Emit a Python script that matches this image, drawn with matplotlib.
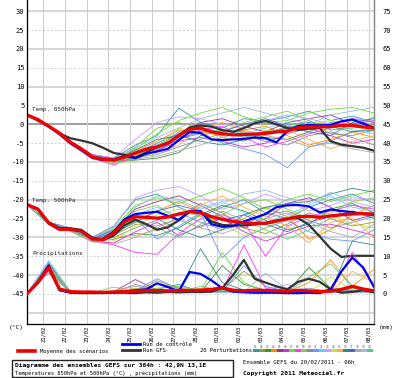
import numpy as np
import matplotlib
matplotlib.use('Agg')
import matplotlib.pyplot as plt
from matplotlib.lines import Line2D
from matplotlib.patches import Rectangle

#-------- time axis (hours after 20/02/2011 06h) --------#
hours = np.arange(0, 385, 12)       # control / GFS / mean
hours_p = np.arange(0, 385, 24)     # perturbations
date_labels = ['21/02', '22/02', '23/02', '24/02', '25/02', '26/02', '27/02', '28/02',
               '01/03', '02/03', '03/03', '04/03', '05/03', '06/03', '07/03', '08/03']
date_hours = [18 + 24*i for i in range(len(date_labels))]

#-------- 850 hPa (degC) --------#
t850_mean = [2.5, 1.3, -0.5, -2.3, -4.8, -6.5, -8.6, -9.3, -9.5, -8.7, -7.6, -6.6, -6.0, -5.0, -3.0, -1.3, -1.0,
             -2.0, -2.5, -2.8, -2.7, -2.6, -2.4, -2.0, -1.8, -0.9, -0.7, -0.7, -0.6, -0.3, -0.3, -0.7, -1.0]
t850_ctrl = [2.5, 1.2, -0.6, -2.5, -5.0, -6.8, -8.8, -9.5, -9.4, -8.4, -9.0, -7.8, -7.2, -6.5, -4.2, -2.0, -2.3,
             -4.0, -4.2, -4.0, -3.9, -3.5, -3.7, -4.8, -1.8, -0.5, -0.2, -0.3, -0.2, 0.8, 1.3, 0.2, -1.0]
t850_gfs = [2.5, 1.0, -0.6, -2.4, -3.7, -4.3, -5.0, -6.2, -7.6, -8.1, -8.8, -7.5, -6.0, -5.0, -3.0, -0.8, -0.3,
            -0.6, -1.5, -2.0, -1.0, 0.3, 0.9, 0.0, -1.0, -1.5, -1.2, -1.0, -4.5, -5.4, -5.8, -6.2, -7.0]
t850_pert = [
    [2.5, -0.3, -4.5, -8.2, -9.0, -5.5, -3.0, 4.3, 0.5, -1.0, 1.5, 0.8, 2.0, 3.5, 1.0, 2.2, 0.5],
    [2.5, -0.6, -5.0, -8.8, -10.2, -8.0, -6.5, -2.0, -0.5, -3.5, -4.5, -2.0, -1.0, 0.5, -2.5, -3.0, -1.5],
    [2.5, -0.4, -4.6, -8.5, -9.8, -9.5, -9.0, -7.5, -3.0, -1.5, -2.0, -3.5, -4.0, -2.0, 0.5, 1.0, -0.5],
    [2.5, -0.5, -5.1, -8.9, -9.3, -7.0, -4.5, -1.5, -2.0, -3.0, -1.5, -0.5, -3.0, -5.5, -4.0, -2.0, -3.5],
    [2.5, -0.2, -4.3, -8.0, -9.0, -7.8, -5.0, -2.5, 0.5, 1.5, -0.5, -2.0, 0.5, 1.5, 2.5, 0.0, 1.0],
    [2.5, -0.7, -5.3, -9.1, -10.0, -9.0, -7.0, -4.5, -3.5, -4.5, -6.0, -5.0, -2.5, -1.0, -3.0, -5.0, -4.0],
    [2.5, -0.3, -4.8, -8.4, -9.6, -6.5, -2.5, 1.0, 3.0, 4.5, 2.0, 0.5, 1.0, 3.0, 4.0, 4.5, 3.0],
    [2.5, -0.5, -4.9, -9.0, -10.8, -8.5, -6.0, -3.5, -1.5, -0.5, -3.5, -6.0, -4.5, -2.5, -1.0, 1.5, 0.5],
    [2.5, -0.4, -4.7, -8.6, -9.4, -6.0, -1.0, 0.5, -1.0, -2.0, 0.5, 2.0, 3.5, 1.0, -1.5, -0.5, 2.0],
    [2.5, -0.6, -5.0, -8.7, -9.2, -8.8, -8.0, -6.0, -4.0, -2.5, -3.0, -4.5, -5.5, -3.0, -2.0, -3.5, -5.5],
    [2.5, -0.5, -4.6, -8.3, -9.9, -7.5, -5.5, -3.8, -2.5, -5.0, -6.5, -8.0, -11.5, -6.0, -4.5, -2.0, -1.0],
    [2.5, -0.4, -4.8, -8.8, -9.5, -7.2, -5.0, -2.2, 0.0, -1.5, -2.5, -1.0, 0.5, -1.0, 0.5, -1.5, -2.5],
    [2.5, -0.2, -4.4, -8.1, -8.9, -4.0, 0.5, 2.0, 1.5, 0.0, -1.0, 1.0, 2.5, 1.5, 0.0, 1.5, 1.0],
    [2.5, -0.6, -5.2, -9.0, -10.3, -9.8, -6.0, -1.0, -2.5, -4.0, -3.0, -1.5, -2.0, 0.0, 1.0, -0.5, -2.0],
    [2.5, -0.5, -4.9, -8.6, -9.7, -8.0, -7.5, -5.5, -1.0, 0.5, -1.5, -3.0, -1.5, -4.0, -6.5, -4.5, -3.0],
    [2.5, -0.3, -4.5, -8.5, -9.6, -6.8, -4.0, -3.0, -4.5, -5.5, -4.0, -2.5, -1.0, 0.5, -0.5, -2.0, -1.5],
    [2.5, -0.4, -4.7, -8.4, -9.1, -7.5, -6.8, -4.0, -1.8, -2.0, 0.0, 1.5, -0.5, -2.0, -3.0, 0.5, 1.5],
    [2.5, -0.7, -5.2, -9.2, -10.5, -9.2, -8.5, -7.0, -5.5, -3.5, -2.0, -3.0, -4.0, -6.0, -5.0, -6.5, -7.5],
    [2.5, -0.5, -4.8, -8.9, -9.8, -6.2, -3.5, -1.0, 1.5, 3.0, 4.5, 3.0, 1.5, 0.0, 2.5, 3.5, 4.5],
    [2.5, -0.4, -4.6, -8.7, -10.0, -8.6, -5.5, -2.8, -1.0, -2.0, -3.5, -2.5, -0.5, 1.0, -1.5, -1.0, -0.5],
]

#-------- 500 hPa (degC) --------#
t500_mean = [-21.3, -22.5, -26.2, -27.9, -27.9, -28.3, -30.4, -30.6, -28.8, -25.8, -24.5, -24.7, -24.9, -24.6,
             -23.8, -23.2, -23.5, -24.5, -25.2, -25.8, -26.1, -26.3, -26.3, -25.6, -25.1, -24.5, -24.4, -24.7,
             -24.3, -24.0, -23.8, -23.7, -23.8]
t500_ctrl = [-21.3, -22.6, -26.3, -28.0, -27.8, -28.4, -30.5, -30.4, -28.5, -25.2, -23.8, -23.5, -23.2, -24.3,
             -25.4, -23.2, -23.0, -26.5, -27.2, -27.0, -25.8, -24.8, -23.8, -22.0, -21.5, -21.4, -21.8, -23.4,
             -22.6, -23.0, -23.3, -23.8, -24.0]
t500_gfs = [-21.3, -22.4, -26.0, -27.5, -27.6, -28.0, -30.0, -30.8, -29.5, -26.8, -25.3, -26.5, -28.0, -27.3,
            -25.5, -23.0, -23.3, -25.8, -26.7, -26.9, -26.8, -26.6, -26.2, -25.8, -25.0, -24.9, -26.7, -29.8,
            -33.0, -35.2, -34.9, -34.9, -34.9]
t500_pert = [
    [-21.3, -26.0, -27.5, -30.0, -27.0, -20.0, -18.5, -22.0, -24.5, -22.0, -20.0, -23.5, -25.0, -22.0, -20.0, -18.5, -21.0],
    [-21.3, -26.4, -28.2, -30.8, -29.5, -26.5, -27.0, -25.0, -21.0, -23.5, -27.5, -29.0, -26.5, -23.5, -25.0, -27.0, -26.0],
    [-21.3, -26.1, -27.8, -30.2, -30.5, -29.0, -29.5, -27.5, -24.0, -21.5, -23.0, -25.5, -28.0, -26.5, -22.5, -21.0, -23.5],
    [-21.3, -26.3, -28.0, -30.6, -29.2, -25.5, -23.0, -20.5, -23.0, -27.0, -25.0, -22.0, -24.5, -30.5, -28.0, -24.0, -21.5],
    [-21.3, -26.0, -27.6, -30.1, -28.0, -22.5, -20.5, -19.0, -21.5, -24.5, -27.5, -25.0, -21.0, -19.5, -22.0, -25.5, -24.0],
    [-21.3, -26.5, -28.3, -31.0, -31.5, -28.5, -26.0, -29.5, -27.0, -25.0, -28.5, -31.0, -29.0, -27.0, -26.5, -28.0, -29.5],
    [-21.3, -26.1, -27.7, -30.3, -27.5, -21.5, -19.5, -21.0, -19.0, -17.0, -19.5, -22.5, -20.0, -18.5, -20.5, -19.0, -17.5],
    [-21.3, -26.4, -28.1, -30.9, -32.0, -34.0, -34.5, -29.0, -25.0, -24.0, -26.0, -35.0, -27.0, -24.5, -23.0, -21.5, -22.5],
    [-21.3, -26.2, -27.9, -30.4, -28.3, -23.0, -21.5, -25.5, -27.5, -24.0, -21.0, -20.0, -22.5, -25.0, -23.5, -20.5, -19.5],
    [-21.3, -26.3, -28.2, -30.7, -30.0, -27.5, -25.5, -23.5, -26.0, -28.0, -26.5, -24.0, -23.0, -25.5, -27.5, -26.0, -24.5],
    [-21.3, -26.1, -27.6, -30.0, -28.5, -25.0, -30.5, -27.0, -23.5, -35.5, -30.0, -27.5, -25.5, -28.5, -30.5, -31.0, -28.0],
    [-21.3, -26.2, -28.0, -30.5, -29.0, -24.0, -22.0, -24.5, -22.0, -20.5, -23.5, -26.0, -24.0, -21.5, -19.0, -22.0, -23.0],
    [-21.3, -26.0, -27.5, -30.0, -27.2, -19.5, -17.5, -16.5, -19.0, -22.5, -21.0, -18.5, -20.5, -23.0, -21.5, -19.5, -20.0],
    [-21.3, -26.4, -28.3, -30.8, -31.0, -27.0, -24.0, -22.5, -24.5, -26.5, -29.5, -27.5, -24.5, -22.0, -24.0, -26.5, -27.5],
    [-21.3, -26.3, -28.0, -30.6, -29.8, -29.5, -28.0, -25.5, -21.5, -19.0, -22.0, -24.5, -27.0, -31.5, -26.0, -25.0, -30.0],
    [-21.3, -26.1, -27.8, -30.3, -28.0, -24.5, -25.0, -28.0, -30.0, -28.0, -24.0, -22.0, -21.0, -20.5, -18.5, -17.0, -18.0],
    [-21.3, -26.2, -27.9, -30.4, -28.8, -26.0, -23.0, -21.5, -23.0, -25.5, -24.0, -26.5, -28.5, -26.0, -24.5, -23.0, -25.0],
    [-21.3, -26.5, -28.4, -31.2, -31.8, -30.0, -27.5, -25.0, -27.5, -29.0, -27.0, -25.0, -23.5, -26.0, -28.5, -30.0, -26.5],
    [-21.3, -26.2, -27.7, -30.2, -27.8, -22.0, -19.0, -20.0, -22.5, -21.0, -18.5, -17.5, -19.5, -21.0, -18.0, -20.5, -22.0],
    [-21.3, -26.3, -28.1, -30.6, -29.3, -25.8, -27.5, -30.0, -26.5, -23.0, -25.5, -28.0, -30.5, -28.0, -25.0, -23.5, -24.5],
]

#-------- precipitation (mm) --------#
rr_mean = [0.0, 3.0, 7.0, 1.3, 0.6, 0.5, 0.5, 0.4, 0.5, 0.6, 0.7, 0.9, 0.9, 0.8, 0.9, 0.9, 1.0,
           1.2, 1.6, 1.0, 0.8, 1.0, 0.9, 0.8, 0.7, 0.9, 0.8, 0.6, 0.7, 1.2, 2.0, 1.3, 0.8]
rr_ctrl = [0.0, 3.2, 7.5, 1.0, 0.4, 0.3, 0.3, 0.3, 0.4, 0.6, 1.0, 1.2, 2.8, 1.8, 0.7, 5.8, 5.3,
           3.6, 1.5, 0.6, 0.4, 0.3, 0.3, 0.3, 0.2, 0.2, 0.3, 0.2, 1.2, 6.0, 9.6, 7.0, 1.8]
rr_gfs = [0.0, 3.0, 6.8, 1.0, 0.3, 0.2, 0.2, 0.2, 0.3, 0.3, 0.2, 0.4, 0.3, 0.5, 0.4, 0.5, 0.5,
          0.6, 1.5, 5.0, 9.0, 4.0, 3.0, 2.0, 1.2, 3.2, 4.0, 3.2, 1.2, 0.3, 0.5, 1.0, 0.4]
rr_pert = [
    [0, 8.0, 0.5, 0.3, 0.4, 0.8, 1.2, 2.5, 0.6, 0.4, 0.5, 0.8, 1.0, 0.6, 0.4, 0.6, 0.8],
    [0, 7.2, 0.4, 0.2, 0.3, 0.5, 3.5, 1.5, 0.8, 1.0, 6.0, 2.0, 0.5, 0.3, 0.4, 1.5, 0.5],
    [0, 6.5, 0.5, 0.3, 0.5, 1.5, 0.8, 0.5, 0.4, 7.5, 2.5, 1.0, 0.6, 7.0, 1.5, 0.8, 0.6],
    [0, 8.5, 0.6, 0.4, 0.3, 0.4, 2.8, 1.5, 0.5, 0.8, 1.2, 0.6, 0.4, 3.0, 9.0, 2.0, 6.5],
    [0, 7.0, 0.4, 0.2, 0.6, 3.8, 1.0, 0.5, 0.3, 0.4, 0.5, 0.8, 1.5, 0.6, 0.5, 0.4, 0.3],
    [0, 6.0, 0.5, 0.3, 0.4, 0.6, 0.4, 0.8, 1.0, 0.5, 0.6, 0.4, 0.3, 0.5, 0.8, 1.0, 0.5],
    [0, 7.5, 0.6, 0.4, 0.5, 0.8, 1.5, 2.0, 0.8, 11.0, 3.0, 0.6, 0.4, 0.5, 1.2, 0.6, 0.4],
    [0, 8.2, 0.5, 0.3, 0.3, 0.5, 0.6, 0.4, 1.2, 0.8, 13.0, 1.5, 0.8, 0.5, 0.4, 11.0, 2.0],
    [0, 6.8, 0.4, 0.3, 1.8, 0.8, 0.5, 0.6, 0.4, 0.5, 0.8, 1.0, 0.5, 0.4, 0.6, 0.8, 0.5],
    [0, 7.8, 0.5, 0.4, 0.5, 2.5, 1.0, 0.5, 0.6, 0.4, 0.5, 0.6, 0.8, 1.5, 0.6, 0.4, 0.5],
    [0, 5.5, 0.4, 0.3, 0.4, 1.0, 4.0, 1.2, 0.5, 0.6, 7.5, 2.0, 0.6, 0.5, 0.4, 0.6, 0.8],
    [0, 8.8, 0.6, 0.4, 0.3, 0.5, 0.8, 1.0, 0.6, 0.5, 0.4, 0.6, 0.5, 0.8, 1.0, 0.6, 0.4],
    [0, 7.0, 0.5, 0.3, 0.4, 0.6, 0.5, 0.4, 0.8, 1.5, 0.6, 1.0, 2.5, 0.8, 0.6, 0.5, 1.0],
    [0, 6.2, 0.4, 0.3, 0.5, 1.5, 0.8, 0.6, 1.5, 0.8, 0.5, 0.4, 0.6, 0.5, 4.5, 1.0, 0.6],
    [0, 7.6, 0.5, 0.4, 0.3, 0.4, 0.5, 0.8, 0.6, 0.5, 1.0, 0.8, 0.5, 0.6, 0.4, 6.0, 3.0],
    [0, 8.0, 0.6, 0.3, 0.4, 0.5, 0.6, 0.8, 12.0, 3.0, 1.0, 0.6, 0.5, 0.4, 0.6, 14.0, 13.0],
    [0, 6.6, 0.5, 0.4, 0.5, 0.6, 0.5, 0.4, 0.5, 0.6, 0.8, 0.5, 0.4, 0.6, 0.5, 0.8, 0.6],
    [0, 7.4, 0.4, 0.3, 0.8, 2.0, 1.0, 0.6, 0.4, 0.5, 0.6, 0.4, 0.5, 0.4, 0.5, 0.6, 0.4],
    [0, 8.4, 0.5, 0.4, 0.3, 0.5, 1.0, 0.8, 0.5, 0.4, 0.5, 5.5, 1.0, 0.6, 0.5, 0.4, 0.5],
    [0, 6.9, 0.5, 0.3, 0.4, 0.8, 0.6, 0.5, 2.0, 0.8, 0.6, 0.5, 0.4, 4.5, 8.0, 2.0, 0.6],
]

pert_colors = ['#3399aa', '#999933', '#339933', '#ff8800', '#993399', '#cc33cc', '#66dd33', '#ff33ff',
               '#88cc44', '#8888aa', '#6699ff', '#66ccff', '#cc99ff', '#ccdd44', '#ffaa44', '#338888',
               '#4466dd', '#aaaaaa', '#99bbdd', '#55cc88']

mono = 'DejaVu Sans Mono'
W, H = 400, 378

def fx(x):
    return x / W

def fy(y):
    return 1 - y / H

fig = plt.figure(figsize=(4, 3.78), dpi=100)
ax = fig.add_axes([fx(27), fy(324), (374 - 27) / W, 324 / H])
ax.set_xlim(0, 384)
ax.set_ylim(-53, 33)

# grid
for v in range(-50, 35, 5):
    if v == 0:
        ax.axhline(v, color='#999999', lw=1.3, zorder=0)
    elif v % 10 == 0:
        ax.axhline(v, color='#d0d0d0', lw=1.2, zorder=0)
    else:
        ax.axhline(v, color='#d0d0d0', lw=0.7, ls=(0, (2, 2)), zorder=0)
for h in date_hours:
    ax.axvline(h, color='#d0d0d0', lw=0.8, zorder=0)

# perturbations
for i in range(20):
    ax.plot(hours_p, t850_pert[i], color=pert_colors[i], lw=0.6, zorder=2)
    ax.plot(hours_p, t500_pert[i], color=pert_colors[i], lw=0.6, zorder=2)

ax.plot(hours, t850_gfs, color='#333333', lw=1.6, zorder=3)
ax.plot(hours, t500_gfs, color='#333333', lw=1.6, zorder=3)
ax.plot(hours, t850_ctrl, color='#0000ee', lw=1.6, zorder=4)
ax.plot(hours, t500_ctrl, color='#0000ee', lw=1.6, zorder=4)
ax.plot(hours, t850_mean, color='#ee0000', lw=2.3, zorder=5)
ax.plot(hours, t500_mean, color='#ee0000', lw=2.3, zorder=5)

ax.set_yticks(range(-45, 31, 5))
ax.set_yticklabels([str(v) for v in range(-45, 31, 5)], fontsize=5, family=mono)
ax.set_xticks(date_hours)
ax.set_xticklabels(date_labels, rotation=90, fontsize=4.0, family=mono)
ax.tick_params(axis='y', length=0, pad=2)
ax.tick_params(axis='x', length=0, pad=1.5)
ax.spines['top'].set_visible(False)
for s in ['left', 'bottom', 'right']:
    ax.spines[s].set_color('#888888')
    ax.spines[s].set_linewidth(1.0)

ax.text(5.5, 4.0, 'Temp. 850hPa', fontsize=4.3, family=mono, color='#222222', va='center', zorder=6)
ax.text(5.5, -20.1, 'Temp. 500hPa', fontsize=4.3, family=mono, color='#222222', va='center', zorder=6)
ax.text(5.5, -34.1, 'Précipitations', fontsize=4.3, family=mono, color='#222222', va='center', zorder=6)

# precipitation on the right (mm) axis
ax2 = ax.twinx()
ax2.set_ylim(-8, 78)
for i in range(20):
    ax2.plot(hours_p, rr_pert[i], color=pert_colors[i], lw=0.6, zorder=2)
ax2.plot(hours, rr_gfs, color='#333333', lw=1.6, zorder=3)
ax2.plot(hours, rr_ctrl, color='#0000ee', lw=1.6, zorder=4)
ax2.plot(hours, rr_mean, color='#ee0000', lw=2.3, zorder=5)
ax2.set_yticks(range(0, 76, 5))
ax2.set_yticklabels([str(v) for v in range(0, 76, 5)], fontsize=5, family=mono)
ax2.tick_params(length=0, pad=6)
ax2.spines['top'].set_visible(False)
ax2.spines['right'].set_color('#888888')

fig.text(fx(16), fy(327), '(°C)', fontsize=4.5, family=mono, ha='center', va='center')
fig.text(fx(386), fy(327), '(mm)', fontsize=4.5, family=mono, ha='center', va='center')

# legend
fig.add_artist(Line2D([fx(18), fx(35)], [fy(351), fy(351)], color='#ee0000', lw=2.6))
fig.text(fx(40), fy(351), 'Moyenne des scénarios', fontsize=4, family=mono, va='center')
fig.add_artist(Line2D([fx(122), fx(140)], [fy(344), fy(344)], color='#0000ee', lw=2))
fig.text(fx(143), fy(344.5), 'Run de contrôle', fontsize=4, family=mono, va='center')
fig.add_artist(Line2D([fx(122), fx(140)], [fy(350), fy(350)], color='#333333', lw=2))
fig.text(fx(143), fy(350.5), 'Run GFS', fontsize=4, family=mono, va='center')
fig.text(fx(200), fy(350), '20 Perturbations', fontsize=4, family=mono, va='center')
for i in range(20):
    x0 = 253 + i * 6
    fig.text(fx(x0 + 2.8), fy(346.5), '%02d' % (i + 1), fontsize=2.2, family=mono,
             ha='center', va='center', color='#555555')
    fig.add_artist(Rectangle((fx(x0), fy(352)), 5.5 / W, 3.0 / H, color=pert_colors[i], lw=0))

# title box
fig.add_artist(Rectangle((fx(12), fy(377)), 221 / W, 17 / H, fill=False, ec='#222222', lw=1))
fig.text(fx(15), fy(365), 'Diagramme des ensembles GEFS sur 384h : 42,9N 13,1E', fontsize=4.5,
         family=mono, weight='bold', va='center')
fig.text(fx(15), fy(373), 'Températures 850hPa et 500hPa (°C) , précipitations (mm)', fontsize=3.9,
         family=mono, va='center')
fig.text(fx(243), fy(362), 'Ensemble GEFS du 20/02/2011 - 06h', fontsize=4.1, family=mono, va='center')
fig.text(fx(243), fy(374), 'Copyright 2011 Meteociel.fr', fontsize=4.5, family=mono,
         weight='bold', va='center')

fig.savefig('out.png', dpi=100)
